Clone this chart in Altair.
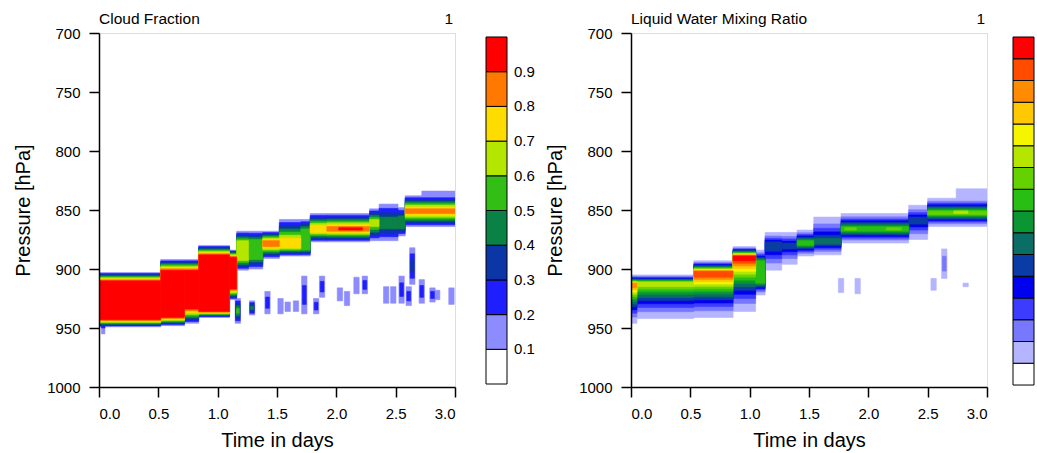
import altair as alt
import pandas as pd

FONT = "Liberation Sans"

# ---------------- Cloud fraction (left panel) ----------------
# layer segments: time start/end [days], outer top/bottom and core top/bottom [hPa], peak level (1..9)
cf_t0   = [0.00, 0.02, 0.52, 0.72, 0.84, 1.10, 1.16, 1.26, 1.38, 1.52, 1.70, 1.78, 1.92, 2.02, 2.28, 2.36, 2.52, 2.58, 2.72]
cf_t1   = [0.52, 0.05, 0.72, 0.84, 1.10, 1.16, 1.26, 1.38, 1.52, 1.70, 1.78, 1.92, 2.28, 2.22, 2.36, 2.52, 2.58, 3.00, 3.00]
cf_top  = [903, 940, 892, 892, 880, 884, 868, 868, 868, 858, 858, 853, 853, 858, 849, 845, 848, 838, 834]
cf_ctop = [910, 945, 901, 901, 888, 890, 876, 875, 876, 874, 866, 863, 864, 865, 858, 856, 855, 849, 836]
cf_cbot = [943, 950, 941, 934, 936, 917, 893, 892, 881, 882, 884, 869, 868, 867, 864, 866, 866, 853, 838]
cf_bot  = [949, 955, 948, 946, 941, 926, 901, 900, 891, 889, 889, 877, 877, 872, 876, 876, 872, 864, 842]
cf_peak = [9, 2, 9, 9, 9, 9, 6, 5, 8, 7, 5, 7, 8, 9, 6, 4, 4, 8, 1]

# small isolated cloud cells: centre time, top, bottom, peak level
cf_blob_t    = [1.17, 1.29, 1.42, 1.53, 1.59, 1.66, 1.73, 1.83, 1.88, 2.03, 2.09, 2.17, 2.24, 2.42, 2.48, 2.55, 2.61, 2.64, 2.72, 2.81, 2.85, 2.97]
cf_blob_top  = [925, 927, 919, 925, 928, 927, 906, 925, 906, 916, 919, 907, 906, 915, 915, 906, 915, 882, 909, 916, 918, 916]
cf_blob_bot  = [946, 939, 938, 938, 936, 936, 938, 938, 924, 927, 931, 921, 921, 929, 929, 929, 931, 913, 929, 928, 926, 930]
cf_blob_peak = [5, 4, 2, 1, 1, 1, 2, 2, 2, 1, 1, 1, 2, 1, 1, 2, 2, 3, 2, 2, 1, 1]

CF_COLORS = ["#FFFFFF", "#8C8CFF", "#1E1EFF", "#0A37A5", "#0A8246", "#32BE14",
             "#B4E600", "#FFDC00", "#FF7800", "#FF0000"]
CF_LABELS = [0.1, 0.2, 0.3, 0.4, 0.5, 0.6, 0.7, 0.8, 0.9]

# ---------------- Liquid water mixing ratio (right panel) ----------------
lw_t0   = [0.00, 0.05, 0.53, 0.86, 1.05, 1.13, 1.27, 1.40, 1.54, 1.77, 1.80, 2.15, 2.34, 2.50, 2.72, 2.74]
lw_t1   = [0.05, 0.53, 0.86, 1.05, 1.13, 1.27, 1.40, 1.54, 1.77, 2.34, 1.90, 2.28, 2.50, 3.00, 2.84, 3.00]
lw_top  = [905, 905, 893, 881, 884, 869, 869, 867, 856, 853, 858, 858, 846, 840, 845, 832]
lw_ctop = [912, 911, 902, 889, 893, 877, 878, 876, 874, 864, 865, 865, 856, 851, 851, 835]
lw_cbot = [916, 915, 907, 893, 912, 885, 883, 880, 879, 868, 867, 867, 862, 854, 853, 838]
lw_bot  = [946, 942, 941, 936, 922, 901, 896, 889, 888, 878, 872, 872, 875, 864, 858, 842]
lw_peak = [13, 10, 14, 15, 8, 5, 5, 8, 6, 8, 9, 9, 5, 9, 10, 1]

lw_blob_t    = [2.64, 1.77, 1.91, 2.55, 2.82]
lw_blob_top  = [883, 908, 908, 908, 912]
lw_blob_bot  = [908, 920, 921, 918, 915]
lw_blob_peak = [2, 1, 1, 1, 1]

LW_COLORS = ["#FFFFFF", "#B4B4FF", "#7878FF", "#3C3CFF", "#0000F0", "#0A3CA5",
             "#0A6E64", "#0A9632", "#28BE14", "#64D200", "#B4E600", "#F5F500",
             "#FFC800", "#FF8C00", "#FF4B00", "#FF0000"]

BLOB_W = 0.045


def lname(k):
    return "L%02d" % k


def build(t0s, t1s, tops, ctops, cbots, bots, peaks, bt, btop, bbot, bpeak, gamma=1.0):
    rows = []
    for t0, t1, top, ct, cb, bot, pk in zip(t0s, t1s, tops, ctops, cbots, bots, peaks):
        for k in range(1, pk + 1):
            f = 0 if pk == 1 else ((k - 1) / (pk - 1)) ** gamma
            rows.append(dict(t0=t0, t1=t1, top=top + (ct - top) * f,
                             bot=bot - (bot - cb) * f, k=k, lev=lname(k)))
    for t, top, bot, pk in zip(bt, btop, bbot, bpeak):
        mid = (top + bot) / 2
        for k in range(1, pk + 1):
            f = (k - 1) / pk
            hw = BLOB_W / 2 * (1 - 0.6 * f)
            rows.append(dict(t0=t - hw, t1=t + hw, top=top + (mid - top) * f,
                             bot=bot - (bot - mid) * f, k=k, lev=lname(k)))
    df = pd.DataFrame(rows)
    return df.sort_values("k", kind="stable").reset_index(drop=True)


cf_df = build(cf_t0, cf_t1, cf_top, cf_ctop, cf_cbot, cf_bot, cf_peak,
              cf_blob_t, cf_blob_top, cf_blob_bot, cf_blob_peak)
lw_df = build(lw_t0, lw_t1, lw_top, lw_ctop, lw_cbot, lw_bot, lw_peak,
              lw_blob_t, lw_blob_top, lw_blob_bot, lw_blob_peak, gamma=0.7)

W, H = 356, 354


def panel(df, title, colors):
    n = len(colors) - 1
    cscale = alt.Scale(domain=[lname(k) for k in range(1, n + 1)], range=colors[1:])
    xaxis = alt.Axis(values=[0, 0.5, 1, 1.5, 2, 2.5, 3], format=".1f", title="Time in days",
                     labelFontSize=15, titleFontSize=20, tickSize=10, tickWidth=1.5,
                     domainWidth=1.5, domainColor="black", tickColor="black",
                     labelColor="black", titleColor="black", labelPadding=9,
                     titlePadding=9, grid=False, zindex=1, labelFont=FONT,
                     titleFont=FONT, titleFontWeight="normal")
    yaxis = alt.Axis(values=[700, 750, 800, 850, 900, 950, 1000], format="d",
                     title="Pressure [hPa]",
                     labelFontSize=15, titleFontSize=20, tickSize=10, tickWidth=1.5,
                     domainWidth=1.5, domainColor="black", tickColor="black",
                     labelColor="black", titleColor="black", labelPadding=9,
                     titlePadding=13, grid=False, zindex=1, labelFont=FONT,
                     titleFont=FONT, titleFontWeight="normal")
    rects = alt.Chart(df).mark_rect(clip=True, strokeWidth=0.6).encode(
        x=alt.X("t0:Q", scale=alt.Scale(domain=[0, 3], nice=False, zero=False), axis=xaxis),
        x2="t1:Q",
        y=alt.Y("top:Q", scale=alt.Scale(domain=[700, 1000], reverse=True, nice=False, zero=False), axis=yaxis),
        y2="bot:Q",
        color=alt.Color("lev:N", scale=cscale, legend=None),
        stroke=alt.Stroke("lev:N", scale=cscale, legend=None),
    )
    ttl = alt.Chart(pd.DataFrame({"s": [title]})).mark_text(
        align="left", baseline="alphabetic", fontSize=15.5, font=FONT, color="black"
    ).encode(x=alt.value(0), y=alt.value(-9), text="s:N")
    one = alt.Chart(pd.DataFrame({"s": ["1"]})).mark_text(
        align="right", baseline="alphabetic", fontSize=15.5, font=FONT, color="black"
    ).encode(x=alt.value(W - 2), y=alt.value(-9), text="s:N")
    return alt.layer(rects, ttl, one).properties(width=W, height=H)


def colorbar(colors, width, x0, labels, dom):
    n = len(colors)
    df = pd.DataFrame({"k": list(range(n))})
    df["lev"] = [lname(k) for k in df["k"]]
    df["y0"] = df["k"] / n
    df["y1"] = (df["k"] + 1) / n
    ysc = alt.Scale(domain=dom, nice=False, zero=False)
    boxes = alt.Chart(df).mark_rect(stroke="black", strokeWidth=1).encode(
        x=alt.value(x0), x2=alt.value(x0 + 21),
        y=alt.Y("y0:Q", scale=ysc, axis=None),
        y2="y1:Q",
        color=alt.Color("lev:N", scale=alt.Scale(domain=[lname(k) for k in range(n)], range=colors), legend=None),
    )
    layers = [boxes]
    if labels:
        ldf = pd.DataFrame({"v": labels})
        txt = alt.Chart(ldf).mark_text(
            align="left", baseline="middle", fontSize=15, font=FONT, color="black"
        ).encode(x=alt.value(x0 + 28), y=alt.Y("v:Q", scale=ysc, axis=None),
                 text=alt.Text("v:Q", format=".1f"))
        layers.append(txt)
    return alt.layer(*layers).properties(width=width, height=H,
                                         view=alt.ViewBackground(stroke="transparent"))


p1 = panel(cf_df, "Cloud Fraction", CF_COLORS)
p2 = panel(lw_df, "Liquid Water Mixing Ratio", LW_COLORS)
SP = 25
cb1 = colorbar(CF_COLORS, 632 - 456 - 2 * SP, 6, CF_LABELS, [-0.0086, 1.0115])
cb2 = colorbar(LW_COLORS, 22, 1, None, [-0.0057, 1.0115])

chart = alt.hconcat(p1, cb1, p2, cb2, spacing=SP, bounds="flush").resolve_scale(
    color="independent", stroke="independent", x="independent", y="independent"
).properties(
    padding={"left": 13, "top": 11, "right": 0, "bottom": 0}
).configure_view(stroke="#444", strokeWidth=1).configure(background="white")

chart.save("out.html", embed_options={"renderer": "svg", "actions": False})
